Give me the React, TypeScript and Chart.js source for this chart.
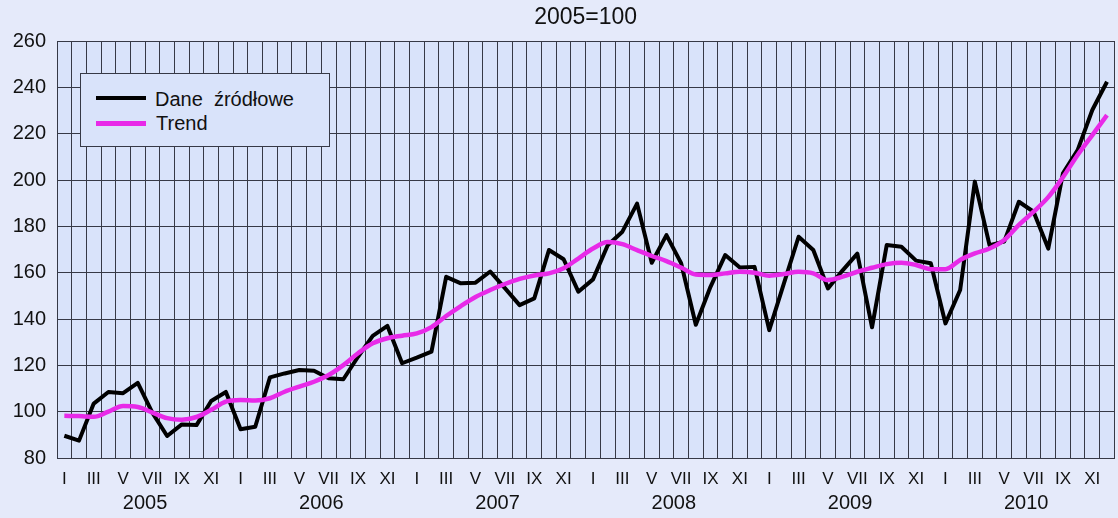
import React, { useEffect, useRef } from 'react';
import { Chart, registerables } from 'chart.js';

Chart.register(...registerables);

const TITLE = '2005=100';
const YEARS = ['2005', '2006', '2007', '2008', '2009', '2010'];
const MONTHS = ['I', 'II', 'III', 'IV', 'V', 'VI', 'VII', 'VIII', 'IX', 'X', 'XI', 'XII'];
const SHOWN_MONTHS = ['I', 'III', 'V', 'VII', 'IX', 'XI'];
const RAW_LABEL = 'Dane  źródłowe';
const TREND_LABEL = 'Trend';
const Y_MIN = 80;
const Y_MAX = 260;
const Y_STEP = 20;

const rawValues = [
  // 2005
  89.6, 87.5, 103.5, 108.5, 108, 112.4, 99.5, 89.5, 94.5, 94.2, 104.6, 108.5,
  // 2006
  92.4, 93.5, 114.8, 116.5, 118, 117.7, 114.4, 114, 123.7, 132.7, 137, 120.9,
  // 2007
  123.3, 125.9, 158.2, 155.4, 155.7, 160.5, 153.3, 146, 148.9, 169.8, 165.8, 151.8,
  // 2008
  157.1, 171.8, 177.7, 189.8, 164.3, 176.2, 164.1, 137.5, 153.9, 167.6, 162.2, 162.5,
  // 2009
  135.2, 155.4, 175.5, 169.8, 153.2, 161.0, 168.2, 136.4, 171.9, 171.2, 165.2, 164.1,
  // 2010
  138.1, 152.5, 199.3, 171.9, 173.4, 190.6, 186.3, 170.4, 202.9, 212.9, 230.2, 242.4,
];

const trendValues = [
  // 2005
  98.2, 98.1, 97.8, 100, 102.4, 102, 99.6, 97.2, 96.5, 97.7, 100.8, 104.3,
  // 2006
  105, 104.8, 105.8, 108.6, 110.8, 112.9, 115.8, 120.1, 125.2, 129.5, 131.7, 132.8,
  // 2007
  133.8, 136.5, 141.3, 145.6, 149.5, 152.5, 155.1, 157.3, 158.8, 159.7, 161.9, 166.1,
  // 2008
  170.4, 173.2, 172.3, 169.7, 167.2, 165, 162.2, 159.2, 159, 159.7, 160.4, 160,
  // 2009
  158.7, 159.4, 160.4, 159.7, 156.8, 158.3, 160.4, 162.1, 163.7, 164.3, 163.3, 161.5,
  // 2010
  161.5, 165.5, 168.3, 170.4, 174.1, 180.6, 186.3, 192.6, 201.2, 210.8, 219.4, 228,
];

const categories: string[] = [];
YEARS.forEach((y) => MONTHS.forEach((m) => categories.push(m + ' ' + y)));

const OUTER_BG = '#e5eafa';
const PLOT_BG = '#d9e3fa';
const GRID = '#363946';
const TEXT = '#111111';
const RAW_COLOR = '#000000';
const TREND_COLOR = '#e82ae8';
const FONT = '"Liberation Sans", Arial, Helvetica, sans-serif';

const plotBgPlugin = {
  id: 'plotBg',
  beforeDraw(chart: any) {
    const { ctx, chartArea } = chart;
    ctx.save();
    ctx.fillStyle = PLOT_BG;
    ctx.fillRect(chartArea.left, chartArea.top, chartArea.right - chartArea.left, chartArea.bottom - chartArea.top);
    ctx.restore();
  },
};

const titlePlugin = {
  id: 'centerTitle',
  afterDraw(chart: any) {
    const { ctx, chartArea } = chart;
    ctx.save();
    ctx.fillStyle = TEXT;
    ctx.font = '23px ' + FONT;
    ctx.textAlign = 'center';
    ctx.textBaseline = 'middle';
    ctx.fillText(TITLE, (chartArea.left + chartArea.right) / 2, 18);
    ctx.restore();
  },
};

export default function App() {
  const canvasRef = useRef<HTMLCanvasElement | null>(null);

  useEffect(() => {
    document.body.style.margin = '0';
    const canvas = canvasRef.current;
    if (!canvas) return;
    const chart = new Chart(canvas, {
      type: 'line',
      data: {
        labels: categories,
        datasets: [
          {
            label: RAW_LABEL,
            data: rawValues,
            borderColor: RAW_COLOR,
            borderWidth: 4,
            tension: 0,
            pointRadius: 0,
            borderJoinStyle: 'round',
            order: 1,
          },
          {
            label: TREND_LABEL,
            data: trendValues,
            borderColor: TREND_COLOR,
            borderWidth: 4.5,
            tension: 0.4,
            cubicInterpolationMode: 'monotone',
            pointRadius: 0,
            order: 0,
          },
        ],
      },
      options: {
        responsive: false,
        animation: false,
        devicePixelRatio: 1,
        layout: { padding: { top: 41, left: 0, right: 0, bottom: 0 } },
        plugins: {
          legend: { display: false },
          title: { display: false },
          tooltip: { enabled: false },
        },
        scales: {
          x: {
            type: 'category',
            offset: true,
            grid: { offset: true, color: GRID, lineWidth: 1, drawTicks: false },
            border: { display: true, color: GRID, width: 1 },
            ticks: {
              autoSkip: false,
              maxRotation: 0,
              minRotation: 0,
              padding: 11,
              color: TEXT,
              font: { family: FONT, size: 17 },
              callback: (_v: any, i: number) => {
                const m = MONTHS[i % 12];
                return SHOWN_MONTHS.includes(m) ? m : '';
              },
            },
            afterFit: (s: any) => {
              s.height = 31;
            },
          },
          x2: {
            type: 'category',
            axis: 'x',
            position: 'bottom',
            labels: YEARS,
            offset: true,
            weight: 1,
            grid: { display: false, drawTicks: false },
            border: { display: false },
            ticks: {
              autoSkip: false,
              maxRotation: 0,
              minRotation: 0,
              padding: 2,
              color: TEXT,
              font: { family: FONT, size: 20 },
            },
            afterFit: (s: any) => {
              s.height = 29;
            },
          },
          y: {
            min: Y_MIN,
            max: Y_MAX,
            grid: { color: GRID, lineWidth: 1, drawTicks: false },
            border: { display: true, color: GRID, width: 1 },
            ticks: {
              stepSize: Y_STEP,
              padding: 11,
              color: TEXT,
              font: { family: FONT, size: 20 },
            },
            afterFit: (s: any) => {
              s.width = 57;
            },
          },
        },
      },
      plugins: [plotBgPlugin, titlePlugin],
    } as any);
    return () => chart.destroy();
  }, []);

  const textStyle: React.CSSProperties = {
    position: 'absolute',
    fontFamily: FONT,
    fontSize: 20,
    lineHeight: '20px',
    color: TEXT,
    whiteSpace: 'pre',
  };

  return (
    <div
      style={{
        position: 'fixed',
        left: 0,
        top: 0,
        width: 1118,
        height: 518,
        background: OUTER_BG,
        overflow: 'hidden',
      }}
    >
      <canvas ref={canvasRef} width={1118} height={518} style={{ display: 'block' }} />
      <div
        style={{
          position: 'absolute',
          left: 80,
          top: 73,
          width: 250,
          height: 74,
          boxSizing: 'border-box',
          border: '1.5px solid ' + GRID,
          background: PLOT_BG,
        }}
      />
      <div style={{ position: 'absolute', left: 96, top: 96, width: 50, height: 4, background: RAW_COLOR }} />
      <div style={{ ...textStyle, left: 155, top: 89 }}>{RAW_LABEL}</div>
      <div style={{ position: 'absolute', left: 96, top: 121, width: 50, height: 4.5, background: TREND_COLOR }} />
      <div style={{ ...textStyle, left: 156, top: 113 }}>{TREND_LABEL}</div>
    </div>
  );
}
